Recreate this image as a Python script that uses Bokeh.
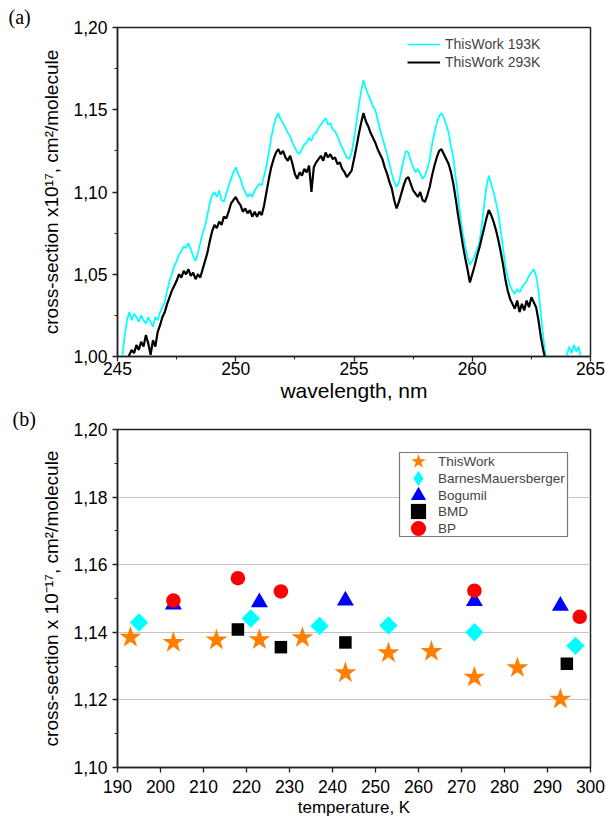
import numpy as np
from bokeh.plotting import figure
from bokeh.layouts import column
from bokeh.models import (FixedTicker, Legend, LegendItem, Title, Range1d,
                          CustomJSTickFormatter, BoxAnnotation)
from bokeh.embed import file_html
from bokeh.resources import INLINE

# ---------------- panel (a): spectra, sampled every 0.1 nm ----------------
wl_start_193 = 245.2
cs_193 = [
    1.000, 1.012, 1.022, 1.027, 1.022, 1.026, 1.024, 1.021, 1.025, 1.022,
    1.020, 1.024, 1.021, 1.018, 1.024, 1.022, 1.027, 1.030, 1.033, 1.040,
    1.046, 1.050, 1.055, 1.058, 1.062, 1.064, 1.067, 1.066, 1.069, 1.065,
    1.061, 1.058, 1.063, 1.069, 1.075, 1.079, 1.086, 1.093, 1.098, 1.100,
    1.097, 1.101, 1.095, 1.094, 1.099, 1.104, 1.108, 1.112, 1.115, 1.111,
    1.108, 1.103, 1.100, 1.097, 1.099, 1.097, 1.101, 1.103, 1.105, 1.104,
    1.110, 1.116, 1.124, 1.133, 1.140, 1.145, 1.148, 1.144, 1.142, 1.139,
    1.136, 1.134, 1.130, 1.127, 1.124, 1.123, 1.126, 1.129, 1.130, 1.133,
    1.131, 1.135, 1.136, 1.139, 1.141, 1.143, 1.145, 1.141, 1.142, 1.138,
    1.137, 1.134, 1.130, 1.127, 1.124, 1.121, 1.120, 1.124, 1.132, 1.142,
    1.152, 1.161, 1.168, 1.163, 1.159, 1.156, 1.152, 1.150, 1.144, 1.138,
    1.133, 1.128, 1.123, 1.117, 1.111, 1.106, 1.103, 1.106, 1.113, 1.120,
    1.125, 1.124, 1.119, 1.115, 1.112, 1.114, 1.111, 1.108, 1.110, 1.114,
    1.120, 1.129, 1.136, 1.142, 1.146, 1.148, 1.145, 1.141, 1.136, 1.128,
    1.121, 1.109, 1.097, 1.085, 1.075, 1.067, 1.060, 1.056, 1.058, 1.061,
    1.065, 1.069, 1.079, 1.092, 1.103, 1.110, 1.105, 1.100, 1.094, 1.087,
    1.077, 1.066, 1.055, 1.048, 1.043, 1.040, 1.038, 1.041, 1.039, 1.042,
    1.044, 1.046, 1.049, 1.051, 1.053, 1.049, 1.040, 1.026, 1.012, 1.000,
    0.990, 0.985, 0.982, 0.980, 0.981, 0.984, 0.988, 0.994, 1.001, 1.006,
    1.002, 1.007, 1.003, 1.006, 0.999, 0.990,
]
wl_start_293 = 245.4
cs_293 = [
    0.995, 1.001, 1.004, 1.002, 1.007, 1.004, 1.009, 1.006, 1.013, 1.008,
    1.001, 1.010, 1.006, 1.015, 1.019, 1.024, 1.027, 1.032, 1.036, 1.040,
    1.043, 1.046, 1.050, 1.048, 1.052, 1.050, 1.053, 1.049, 1.051, 1.047,
    1.050, 1.048, 1.053, 1.058, 1.063, 1.070, 1.076, 1.080, 1.078, 1.082,
    1.080, 1.085, 1.084, 1.088, 1.093, 1.095, 1.097, 1.094, 1.092, 1.088,
    1.090, 1.087, 1.089, 1.085, 1.088, 1.085, 1.088, 1.086, 1.092, 1.100,
    1.108, 1.115, 1.120, 1.124, 1.126, 1.123, 1.125, 1.121, 1.119, 1.122,
    1.117, 1.111, 1.108, 1.112, 1.110, 1.114, 1.112, 1.116, 1.100, 1.115,
    1.118, 1.120, 1.122, 1.119, 1.124, 1.121, 1.123, 1.120, 1.121, 1.117,
    1.118, 1.114, 1.112, 1.109, 1.111, 1.113, 1.120, 1.127, 1.135, 1.142,
    1.148, 1.143, 1.140, 1.136, 1.133, 1.130, 1.126, 1.123, 1.120, 1.115,
    1.111, 1.106, 1.102, 1.095, 1.090, 1.094, 1.099, 1.104, 1.108, 1.109,
    1.105, 1.101, 1.099, 1.097, 1.100, 1.095, 1.094, 1.098, 1.103, 1.110,
    1.116, 1.121, 1.125, 1.126, 1.123, 1.120, 1.117, 1.112, 1.105, 1.096,
    1.086, 1.077, 1.068, 1.060, 1.053, 1.045, 1.050, 1.055, 1.061, 1.066,
    1.072, 1.078, 1.084, 1.089, 1.086, 1.082, 1.077, 1.071, 1.064, 1.056,
    1.047, 1.040, 1.035, 1.032, 1.029, 1.034, 1.027, 1.032, 1.028, 1.034,
    1.030, 1.036, 1.033, 1.030, 1.022, 1.012, 1.004, 0.998, 0.990,
]
wl_193 = np.round(wl_start_193 + 0.1 * np.arange(len(cs_193)), 2)
wl_293 = np.round(wl_start_293 + 0.1 * np.arange(len(cs_293)), 2)

wl_ticks = [245, 250, 255, 260, 265]
wl_minor = [247.5, 252.5, 257.5, 262.5]
cs_ticks_a = [1.00, 1.05, 1.10, 1.15, 1.20]
cs_minor_a = [1.025, 1.075, 1.125, 1.175]

# ---------------- panel (b): temperature dependence ----------------
t_thiswork = [193, 203, 213, 223, 233, 243, 253, 263, 273, 283, 293]
cs_thiswork = [1.1385, 1.1370, 1.1377, 1.1378, 1.1384, 1.1280, 1.1339, 1.1343, 1.1267, 1.1295, 1.1202]
t_barnes = [195, 221, 237, 253, 273, 296.5]
cs_barnes = [1.1429, 1.1441, 1.1419, 1.1420, 1.1400, 1.1360]
t_bogumil = [203, 223, 243, 273, 293]
cs_bogumil = [1.1482, 1.1489, 1.1494, 1.1492, 1.1478]
t_bmd = [218, 228, 243, 294.5]
cs_bmd = [1.1408, 1.1356, 1.1370, 1.1307]
t_bp = [203, 218, 228, 273, 297.5]
cs_bp = [1.1494, 1.1560, 1.1521, 1.1523, 1.1446]

t_ticks = list(range(190, 301, 10))
cs_ticks_b = [1.10, 1.12, 1.14, 1.16, 1.18, 1.20]
cs_minor_b = [1.11, 1.13, 1.15, 1.17, 1.19]

SANS = "Liberation Sans"
SERIF = "Liberation Serif"

comma_fmt = CustomJSTickFormatter(code="return tick.toFixed(2).replace('.', ',');")


def style_axis(ax, label_size, label_standoff):
    ax.axis_line_color = "#222222"
    ax.axis_line_width = 1.5
    ax.major_tick_out = 5
    ax.major_tick_in = 0
    ax.minor_tick_out = 3
    ax.minor_tick_in = 0
    ax.major_tick_line_color = "#222222"
    ax.minor_tick_line_color = "#222222"
    ax.major_tick_line_width = 1.3
    ax.major_label_text_font = SANS
    ax.major_label_text_font_size = "17.5px"
    ax.major_label_text_color = "black"
    ax.axis_label_text_font = SANS
    ax.axis_label_text_font_style = "normal"
    ax.axis_label_text_font_size = label_size
    ax.axis_label_text_color = "black"
    ax.axis_label_standoff = label_standoff


def panel_title(text, offset):
    return Title(text=text, align="left", offset=offset, standoff=0,
                 text_font=SERIF, text_font_size="20px", text_font_style="normal",
                 text_color="black")


# ---------- figure (a) ----------
p1 = figure(width=606, height=405, x_range=Range1d(245, 265), y_range=Range1d(1.0, 1.2),
            output_backend="svg", toolbar_location=None,
            min_border_left=117, min_border_right=16, min_border_top=27, min_border_bottom=49)
p1.title = panel_title("(a)", -109)
p1.grid.visible = False
p1.outline_line_color = "#222222"
p1.outline_line_width = 1.5
r193 = p1.line(wl_193, cs_193, line_color="#00FFFF", line_width=1.7)
r293 = p1.line(wl_293, cs_293, line_color="black", line_width=2.2)
p1.xaxis.ticker = FixedTicker(ticks=wl_ticks, minor_ticks=wl_minor)
p1.yaxis.ticker = FixedTicker(ticks=cs_ticks_a, minor_ticks=cs_minor_a)
p1.yaxis.formatter = comma_fmt
style_axis(p1.xaxis[0], "21px", 1)
style_axis(p1.yaxis[0], "19px", 8)
p1.xaxis.major_label_standoff = 0
p1.yaxis.major_label_standoff = 5
p1.xaxis.axis_label = "wavelength, nm"
p1.yaxis.axis_label = "cross-section x10\u00b9\u2077, cm\u00b2/molecule"

leg1 = Legend(items=[LegendItem(label="ThisWork 193K", renderers=[r193]),
                     LegendItem(label="ThisWork 293K", renderers=[r293])],
              location=(290, 285), border_line_color=None, background_fill_alpha=0,
              padding=0, margin=0, spacing=0, glyph_width=33, glyph_height=18,
              label_height=18, label_standoff=5, label_text_font=SANS,
              label_text_font_size="14px")
p1.add_layout(leg1)

# ---------- figure (b) ----------
p2 = figure(width=606, height=415, x_range=Range1d(190, 300), y_range=Range1d(1.10, 1.20),
            output_backend="svg", toolbar_location=None,
            min_border_left=117, min_border_right=16, min_border_top=21, min_border_bottom=53)
p2.title = panel_title("(b)", -105)
p2.xgrid.visible = False
p2.ygrid.ticker = FixedTicker(ticks=[1.12, 1.14, 1.16, 1.18])
p2.ygrid.grid_line_color = "#c4c4c4"
p2.ygrid.grid_line_width = 1.2
p2.outline_line_color = "#222222"
p2.outline_line_width = 1.5

rb = p2.scatter(t_bogumil, cs_bogumil, marker="triangle", size=17, fill_color="#0000FF", line_color=None)
rm = p2.scatter(t_bmd, cs_bmd, marker="square", size=12.5, fill_color="black", line_color=None)
rn = p2.scatter(t_barnes, cs_barnes, marker="square", angle=np.pi / 4, size=13,
                fill_color="#00FFFF", line_color=None)
rt = p2.scatter(t_thiswork, cs_thiswork, marker="star", size=23, fill_color="#FF8000", line_color=None)
rp = p2.scatter(t_bp, cs_bp, marker="circle", size=14.5, fill_color="#FF0000", line_color=None)
# legend key for the rotated-square series (legend keys ignore angle): same data, zero size
rn_key = p2.scatter(t_barnes, cs_barnes, marker="diamond", size=0,
                    fill_color="#00FFFF", line_color=None)

p2.xaxis.ticker = FixedTicker(ticks=t_ticks, minor_ticks=[])
p2.yaxis.ticker = FixedTicker(ticks=cs_ticks_b, minor_ticks=cs_minor_b)
p2.yaxis.formatter = comma_fmt
style_axis(p2.xaxis[0], "17px", 2)
style_axis(p2.yaxis[0], "19px", 8)
p2.xaxis.major_label_standoff = 7
p2.yaxis.major_label_standoff = 5
p2.xaxis.axis_label = "temperature, K"
p2.yaxis.axis_label = "cross-section x 10\u207b\u00b9\u2077, cm\u00b2/molecule"

# legend frame (screen units relative to the plot frame)
p2.add_layout(BoxAnnotation(left=282, right=450, top=315, bottom=231,
                            left_units="screen", right_units="screen",
                            top_units="screen", bottom_units="screen",
                            fill_color="white", fill_alpha=1.0,
                            line_color="#777777", line_width=1.2, line_alpha=1.0))
leg_labels = ["ThisWork", "BarnesMauersberger", "Bogumil", "BMD", "BP"]
leg_renderers = [rt, rn_key, rb, rm, rp]
leg_rows = [287, 270, 253, 237, 220]
for lab, rend, yb in zip(leg_labels, leg_renderers, leg_rows):
    lg = Legend(items=[LegendItem(label=lab, renderers=[rend])],
                location=(282, yb), border_line_color=None, background_fill_alpha=0,
                padding=0, margin=0, spacing=0, glyph_width=38, glyph_height=38,
                label_height=38, label_standoff=1, label_text_font=SANS,
                label_text_font_size="13.5px")
    p2.add_layout(lg)

layout = column(p1, p2, spacing=0)
open("out.html", "w").write(file_html(layout, INLINE))
